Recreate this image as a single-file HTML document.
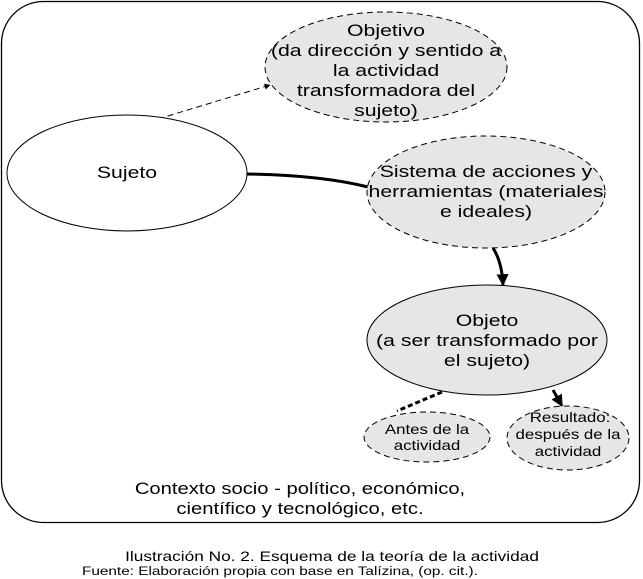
<!DOCTYPE html>
<html><head><meta charset="utf-8"><style>
body{margin:0;background:#fff}
svg{display:block}
text{font-family:"Liberation Sans",Arial,sans-serif;fill:#000}
</style></head><body>
<svg width="643" height="579" viewBox="0 0 643 579">
<defs>
<marker id="a" viewBox="0 0 10 10" refX="9" refY="5" markerWidth="6" markerHeight="6" orient="auto"><path d="M0,0L10,5L0,10z" fill="#000"/></marker>
<marker id="b" viewBox="0 0 10 10" refX="9" refY="5" markerWidth="4" markerHeight="4" orient="auto"><path d="M0,0L10,5L0,10z" fill="#000"/></marker>
</defs>
<rect x="1.5" y="1.5" width="638" height="521" rx="42" fill="#fff" stroke="#000" stroke-width="1.3"/>
<line x1="158" y1="119" x2="270" y2="85" stroke="#000" stroke-dasharray="6,4" stroke-width="1" marker-end="url(#a)"/>
<path d="M247,174 Q320,175 368,187" fill="none" stroke="#000" stroke-width="3"/>
<path d="M493,248 Q502,262 503,285" fill="none" stroke="#000" stroke-width="3" marker-end="url(#b)"/>
<line x1="442" y1="392" x2="397" y2="411" stroke="#000" stroke-width="3" stroke-dasharray="5,3"/>
<line x1="553" y1="390" x2="562" y2="406" stroke="#000" stroke-width="3" marker-end="url(#b)"/>
<g stroke="#000" stroke-width="1" fill="#e6e6e6">
<ellipse cx="386" cy="67" rx="121" ry="55" stroke-dasharray="6,4"/>
<ellipse cx="127" cy="173" rx="120" ry="58" fill="#fff"/>
<ellipse cx="486" cy="192" rx="119" ry="56" stroke-dasharray="6,4"/>
<ellipse cx="487" cy="340" rx="120" ry="55"/>
<ellipse cx="427" cy="437" rx="63" ry="25" stroke-dasharray="6,4"/>
<ellipse cx="568" cy="438" rx="61" ry="32" stroke-dasharray="6,4"/>
</g>
<g font-size="17" text-anchor="middle">
<text transform="translate(386,36) scale(1.25,1)">Objetivo</text>
<text transform="translate(386,56) scale(1.25,1)">(da dirección y sentido a</text>
<text transform="translate(386,76) scale(1.25,1)">la actividad</text>
<text transform="translate(386,96) scale(1.25,1)">transformadora del</text>
<text transform="translate(386,116) scale(1.25,1)">sujeto)</text>
<text transform="translate(127,178) scale(1.25,1)">Sujeto</text>
<text transform="translate(486,177) scale(1.25,1)">Sistema de acciones y</text>
<text transform="translate(486,197) scale(1.25,1)">herramientas (materiales</text>
<text transform="translate(486,217) scale(1.25,1)">e ideales)</text>
<text transform="translate(487,326) scale(1.25,1)">Objeto</text>
<text transform="translate(487,346) scale(1.25,1)">(a ser transformado por</text>
<text transform="translate(487,366) scale(1.25,1)">el sujeto)</text>
<text transform="translate(300,494) scale(1.19,1)">Contexto socio - político, económico,</text>
<text transform="translate(300,514) scale(1.19,1)">científico y tecnológico, etc.</text>
</g>
<g font-size="13.5" text-anchor="middle">
<text transform="translate(427,434) scale(1.25,1)">Antes de la</text>
<text transform="translate(427,450) scale(1.25,1)">actividad</text>
<text transform="translate(570,422) scale(1.25,1)">Resultado:</text>
<text transform="translate(568,439) scale(1.25,1)">después de la</text>
<text transform="translate(568,456) scale(1.25,1)">actividad</text>
</g>
<text transform="translate(332,561) scale(1.28,1)" font-size="13.5" text-anchor="middle">Ilustración No. 2. Esquema de la teoría de la actividad</text>
<text transform="translate(82,575) scale(1.3,1)" font-size="11.8">Fuente: Elaboración propia con base en Talízina, (op. cit.).</text>
</svg>
</body></html>
